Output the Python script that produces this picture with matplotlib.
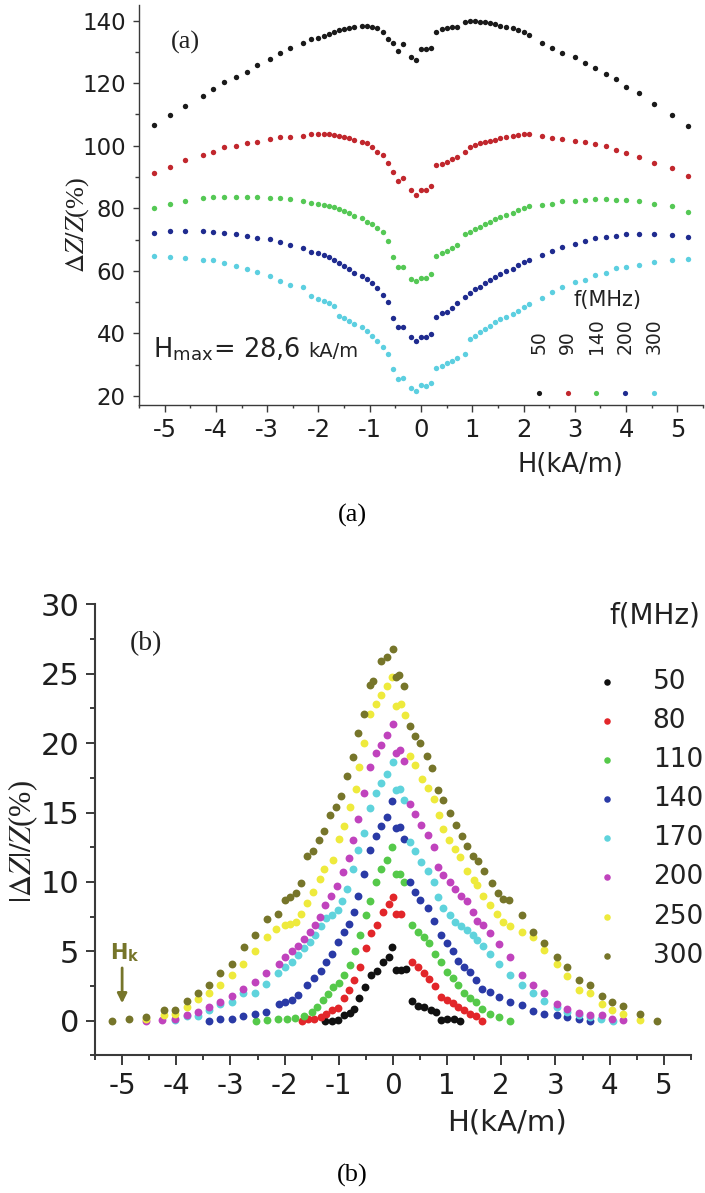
import matplotlib.pyplot as plt
from matplotlib.ticker import MultipleLocator

plt.rcParams['font.family'] = ['DejaVu Sans']
plt.rcParams['mathtext.fontset'] = 'stix'
plt.rcParams['axes.unicode_minus'] = False

# ---------------- panel (a): GMI ratio, Hmax = 28,6 kA/m ----------------
H_a = [-5.2, -4.9, -4.6, -4.25, -4.05, -3.85, -3.6, -3.4, -3.2, -2.95,
       -2.75, -2.55, -2.3, -2.15, -2.0, -1.9, -1.8, -1.7, -1.6, -1.5,
       -1.4, -1.3, -1.15, -1.05, -0.95, -0.85,
       -0.75, -0.65, -0.55, -0.45, -0.35, -0.2, -0.1,
       0.0, 0.1, 0.2,
       0.3, 0.4, 0.5, 0.6, 0.7, 0.85, 0.95, 1.05, 1.15, 1.25,
       1.35, 1.45, 1.55, 1.65, 1.8, 1.9, 2.0, 2.1,
       2.35, 2.55, 2.75, 3.0, 3.2, 3.4, 3.6, 3.8, 4.0, 4.25, 4.55, 4.9, 5.2]

a_50 = [106.7, 109.8, 112.8, 116.0, 118.1, 120.4, 122.1, 123.7, 125.7, 127.7,
        129.6, 131.2, 132.8, 134.1, 134.6, 135.1, 135.6, 136.3, 137.0, 137.3,
        137.8, 138.1, 138.4, 138.4, 138.1, 137.6,
        136.3, 134.0, 132.8, 130.3, 132.6, 128.5, 127.4,
        131.0, 131.0, 131.2,
        136.5, 137.2, 137.6, 137.9, 138.1, 139.7, 139.9, 139.9, 139.7, 139.5,
        139.2, 138.8, 138.4, 138.1, 137.6, 137.0, 136.3, 135.4,
        133.0, 131.4, 129.8, 128.3, 126.6, 124.8, 123.0, 121.3, 118.9, 116.8, 113.3, 109.8, 106.3]
a_90 = [91.2, 93.3, 95.5, 97.1, 98.1, 99.5, 100.0, 101.0, 101.3, 102.1,
        102.7, 102.9, 103.1, 103.7, 103.7, 103.8, 103.7, 103.5, 103.1, 102.9,
        102.4, 101.9, 101.3, 101.0, 99.7, 98.1,
        97.0, 94.6, 91.7, 88.6, 89.6, 85.9, 84.3,
        85.7, 85.7, 87.1,
        93.7, 94.2, 94.9, 95.7, 96.5, 98.1, 99.7, 100.3, 100.8, 101.3,
        101.6, 101.9, 102.4, 102.9, 103.1, 103.5, 103.7, 103.7,
        103.2, 102.6, 102.1, 101.6, 101.3, 100.6, 99.9, 98.6, 97.6, 96.5, 94.6, 92.8, 90.4]
a_140 = [80.0, 81.4, 82.4, 83.2, 83.5, 83.7, 83.7, 83.7, 83.5, 83.4,
         83.2, 82.9, 82.4, 81.8, 81.4, 81.1, 80.7, 80.3, 79.7, 79.2,
         78.4, 77.6, 76.8, 75.7, 75.0, 73.8,
         72.5, 69.4, 64.3, 61.1, 61.1, 57.4, 56.9,
         57.6, 57.6, 59.0,
         64.9, 65.8, 66.5, 67.2, 68.3, 71.8, 72.3, 73.3, 74.1, 75.0,
         75.7, 76.6, 77.3, 77.9, 78.6, 79.3, 80.0, 80.7,
         81.1, 81.4, 82.2, 82.2, 82.8, 83.0, 83.0, 82.8, 82.6, 82.2, 81.4, 80.6, 78.7]
a_200 = [72.2, 72.8, 72.9, 72.9, 72.5, 72.2, 71.8, 71.2, 70.6, 70.1,
         69.1, 68.3, 67.2, 66.1, 65.6, 65.1, 64.3, 63.5, 62.6, 61.6,
         60.5, 59.4, 58.4, 57.3, 56.0, 54.4,
         52.3, 50.2, 44.8, 42.0, 42.0, 38.8, 37.7,
         38.9, 38.9, 39.8,
         45.4, 46.4, 47.0, 48.0, 49.6, 51.7, 53.0, 54.1, 54.9, 56.0,
         57.0, 57.9, 58.9, 59.9, 60.7, 61.8, 62.8, 63.6,
         65.1, 66.3, 67.6, 68.7, 69.7, 70.4, 70.9, 71.3, 71.7, 71.8, 71.8, 71.5, 70.7]
a_300 = [64.7, 64.5, 64.2, 63.6, 63.4, 62.6, 61.7, 60.6, 59.5, 58.3,
         56.9, 55.6, 54.9, 51.9, 51.1, 50.3, 49.6, 48.7, 45.6, 44.9,
         44.0, 43.0, 41.9, 40.8, 39.2, 37.6,
         35.5, 33.4, 28.6, 25.4, 25.6, 22.7, 21.6,
         23.4, 23.2, 24.3,
         28.9, 29.7, 30.5, 31.3, 32.0, 33.4, 38.2, 39.2, 40.5, 41.4,
         42.4, 43.5, 44.6, 45.4, 46.2, 47.2, 48.3, 49.4,
         51.4, 53.2, 54.8, 56.3, 57.1, 58.7, 59.4, 60.8, 61.3, 61.8, 62.7, 63.5, 63.7]

series_a = [a_50, a_90, a_140, a_200, a_300]
freqs_a = ['50', '90', '140', '200', '300']
colors_a = ['#1a1a1a', '#c1272d', '#55c855', '#1f2b8f', '#5ccfe0']

# ---------------- panel (b): |dZ|/Z vs H for several frequencies ----------------
H_50 = [-1.25, -1.13, -1.02, -0.9, -0.79, -0.71, -0.63, -0.52, -0.4, -0.29, -0.18, -0.08, -0.01,
        0.05, 0.15, 0.25, 0.35, 0.46, 0.58, 0.71, 0.79, 0.88, 1.0, 1.13, 1.23]
b_50 = [0.0, 0.0, 0.05, 0.4, 0.56, 0.86, 1.66, 2.4, 3.3, 3.6, 4.2, 4.6, 5.3,
        3.65, 3.65, 3.7, 1.45, 1.05, 0.95, 0.8, 0.65, 0.05, 0.15, 0.15, 0.0]

H_80 = [-1.68, -1.57, -1.46, -1.33, -1.23, -1.13, -1.02, -0.9, -0.82, -0.71, -0.61, -0.5, -0.4,
        -0.29, -0.18, -0.08, 0.0, 0.05, 0.15, 0.35, 0.46, 0.57, 0.67, 0.77, 0.88, 1.0, 1.11,
        1.21, 1.32, 1.42, 1.53, 1.65]
b_80 = [0.0, 0.1, 0.15, 0.27, 0.5, 0.75, 0.94, 1.6, 2.2, 2.9, 3.9, 5.2, 6.3,
        6.9, 7.8, 8.4, 8.9, 7.7, 7.7, 4.2, 3.9, 3.4, 3.0, 2.5, 1.7, 1.5, 1.25,
        1.0, 0.8, 0.5, 0.3, 0.0]

H_110 = [-2.52, -2.33, -2.13, -1.95, -1.8, -1.65, -1.5, -1.4, -1.3, -1.2, -1.1, -1.0, -0.9,
         -0.8, -0.7, -0.6, -0.5, -0.42, -0.32, -0.22, -0.11, -0.02, 0.05, 0.13, 0.2, 0.35,
         0.46, 0.58, 0.67, 0.77, 0.88, 1.0, 1.11, 1.21, 1.32, 1.42, 1.53, 1.65, 1.79, 1.96, 2.17]
b_110 = [0.0, 0.03, 0.1, 0.12, 0.22, 0.32, 0.63, 1.0, 1.46, 1.95, 2.4, 2.7, 3.3,
         4.0, 5.0, 6.2, 7.6, 8.6, 10.0, 10.9, 11.6, 12.5, 10.6, 10.6, 10.0, 6.9,
         6.4, 6.0, 5.6, 4.8, 4.2, 3.5, 3.1, 2.55, 2.0, 1.66, 1.35, 0.86, 0.5, 0.27, 0.0]

H_140 = [-3.4, -3.19, -2.97, -2.77, -2.55, -2.34, -2.11, -2.0, -1.87, -1.75, -1.58, -1.46, -1.32,
         -1.23, -1.13, -1.02, -0.9, -0.82, -0.71, -0.64, -0.54, -0.42, -0.32, -0.22, -0.11, -0.02,
         0.05, 0.13, 0.2, 0.32, 0.41, 0.5, 0.64, 0.75, 0.88, 1.0, 1.11, 1.21, 1.32, 1.42, 1.53,
         1.65, 1.79, 1.96, 2.17, 2.38, 2.58, 2.79, 3.02, 3.22, 3.43, 3.64]
b_140 = [0.0, 0.1, 0.1, 0.32, 0.46, 0.63, 1.2, 1.35, 1.5, 1.83, 2.55, 3.1, 3.6,
         4.2, 4.8, 5.7, 6.4, 7.0, 7.8, 9.0, 10.6, 12.3, 13.3, 14.0, 14.7, 15.8,
         13.85, 13.95, 13.1, 10.0, 9.3, 8.7, 8.1, 7.2, 6.2, 5.6, 5.0, 4.3, 3.9, 3.5, 2.9,
         2.25, 2.1, 1.7, 1.35, 1.1, 0.7, 0.5, 0.4, 0.27, 0.15, 0.0]

H_170 = [-4.02, -3.81, -3.6, -3.4, -3.19, -2.97, -2.77, -2.55, -2.34, -2.13, -2.0, -1.87, -1.75,
         -1.65, -1.54, -1.44, -1.33, -1.23, -1.13, -1.02, -0.94, -0.85, -0.74, -0.64, -0.54,
         -0.43, -0.32, -0.22, -0.11, 0.0, 0.05, 0.13, 0.2, 0.32, 0.41, 0.52, 0.64, 0.75, 0.84,
         0.93, 1.06, 1.15, 1.25, 1.36, 1.47, 1.56, 1.67, 1.79, 1.96, 2.17, 2.38, 2.58, 2.79,
         3.02, 3.22, 3.43, 3.64, 3.85, 4.06]
b_170 = [0.03, 0.32, 0.32, 0.75, 1.2, 1.35, 2.0, 2.0, 2.67, 3.44, 3.9, 4.2, 4.7,
         5.2, 5.7, 6.2, 6.8, 7.4, 7.6, 8.0, 8.6, 9.5, 10.9, 12.3, 13.5,
         15.3, 16.4, 17.1, 17.8, 18.65, 16.6, 16.7, 15.9, 12.9, 12.2, 11.4, 10.8, 10.0, 8.9,
         8.1, 7.6, 7.1, 6.8, 6.5, 6.2, 5.8, 5.4, 4.8, 4.1, 3.3, 2.55, 2.0, 1.42,
         1.0, 0.63, 0.4, 0.27, 0.15, 0.0]

H_200 = [-4.55, -4.26, -4.03, -3.81, -3.6, -3.4, -3.19, -2.97, -2.77, -2.55, -2.34, -2.11, -2.0,
         -1.87, -1.75, -1.65, -1.54, -1.44, -1.35, -1.25, -1.14, -1.03, -0.93, -0.82, -0.73,
         -0.64, -0.53, -0.42, -0.32, -0.22, -0.11, 0.0, 0.05, 0.13, 0.2, 0.32, 0.41, 0.52, 0.64,
         0.75, 0.84, 0.93, 1.06, 1.15, 1.25, 1.36, 1.47, 1.56, 1.67, 1.8, 1.96, 2.17, 2.38,
         2.58, 2.79, 3.02, 3.22, 3.43, 3.64, 3.86, 4.04, 4.24]
b_200 = [0.0, 0.03, 0.1, 0.39, 0.63, 0.99, 1.35, 1.76, 2.3, 2.8, 3.45, 4.1, 4.6,
         5.0, 5.4, 5.9, 6.4, 6.9, 7.5, 8.3, 9.0, 9.7, 10.7, 11.7, 13.0,
         14.5, 16.4, 18.3, 19.3, 19.9, 20.6, 21.4, 19.3, 19.5, 18.7, 15.6, 14.9, 14.1, 13.4,
         12.5, 11.1, 10.5, 10.0, 9.5, 9.0, 8.6, 7.8, 7.2, 6.9, 6.3, 5.5, 4.6, 3.3,
         2.55, 2.0, 1.23, 0.86, 0.55, 0.4, 0.39, 0.15, 0.07]

H_250 = [-4.55, -4.23, -4.02, -3.81, -3.6, -3.4, -3.19, -2.97, -2.77, -2.54, -2.33, -2.15, -2.0,
         -1.9, -1.79, -1.7, -1.59, -1.47, -1.35, -1.27, -1.1, -1.0, -0.9, -0.79, -0.69, -0.63,
         -0.54, -0.42, -0.32, -0.22, -0.11, -0.02, 0.05, 0.14, 0.22, 0.32, 0.41, 0.53, 0.64,
         0.75, 0.85, 0.93, 1.04, 1.14, 1.24, 1.36, 1.49, 1.56, 1.67, 1.8, 1.92, 2.04, 2.17,
         2.38, 2.58, 2.79, 3.02, 3.22, 3.43, 3.64, 3.86, 4.04, 4.24, 4.56]
b_250 = [0.1, 0.39, 0.5, 0.99, 1.59, 2.0, 2.6, 3.27, 4.07, 5.0, 6.0, 6.6, 6.9,
         7.0, 7.1, 7.7, 8.5, 9.3, 10.2, 10.9, 11.6, 13.1, 14.0, 15.4, 16.7, 18.3,
         20.0, 22.1, 22.8, 23.5, 24.1, 24.8, 22.7, 22.8, 22.0, 19.1, 18.4, 17.4, 16.8,
         16.0, 14.8, 13.8, 13.0, 12.4, 11.8, 10.8, 10.1, 9.8, 9.0, 8.3, 7.7, 7.1, 6.8,
         6.4, 6.0, 5.1, 4.1, 3.2, 2.2, 2.0, 1.23, 0.8, 0.46, 0.05]

H_300 = [-5.18, -4.88, -4.55, -4.23, -4.02, -3.81, -3.6, -3.4, -3.19, -2.97, -2.75, -2.54, -2.33,
         -2.12, -2.0, -1.9, -1.79, -1.7, -1.58, -1.47, -1.36, -1.27, -1.16, -1.06, -0.96, -0.85,
         -0.74, -0.65, -0.53, -0.43, -0.36, -0.22, -0.11, 0.0, 0.06, 0.12, 0.2, 0.32, 0.41, 0.5,
         0.62, 0.73, 0.83, 0.93, 1.05, 1.16, 1.27, 1.37, 1.47, 1.57, 1.69, 1.82, 1.94, 2.04,
         2.15, 2.38, 2.58, 2.79, 3.02, 3.22, 3.43, 3.64, 3.86, 4.04, 4.24, 4.56, 4.88]
b_300 = [0.0, 0.1, 0.27, 0.75, 0.75, 1.4, 2.02, 2.6, 3.4, 4.07, 5.3, 6.2, 7.3,
         7.7, 8.7, 8.9, 9.2, 9.9, 11.9, 12.2, 13.0, 13.7, 14.8, 15.4, 16.2, 17.6,
         19.0, 20.7, 22.1, 24.2, 24.5, 25.9, 26.2, 26.8, 24.8, 24.9, 24.1, 21.2, 20.5, 20.0,
         19.1, 18.2, 16.6, 15.9, 15.0, 14.1, 13.3, 12.6, 11.9, 11.5, 10.8, 9.9, 9.2, 8.8,
         8.7, 7.6, 6.4, 5.6, 4.6, 3.9, 2.9, 2.6, 1.76, 1.35, 1.06, 0.46, 0.0]

series_b = [(H_50, b_50), (H_80, b_80), (H_110, b_110), (H_140, b_140),
            (H_170, b_170), (H_200, b_200), (H_250, b_250), (H_300, b_300)]
freqs_b = ['50', '80', '110', '140', '170', '200', '250', '300']
colors_b = ['#111111', '#e2262a', '#55c94a', '#2a3aa6', '#5fd3dc',
            '#c043bd', '#eeea3c', '#76752a']
Hk = -5.0

axis_col = '#3a3a3a'
serif = ['Liberation Serif', 'DejaVu Serif']

fig = plt.figure(figsize=(7.05, 11.93), dpi=100)

# panel (a)
ax = fig.add_axes([0.1972, 0.6605, 0.8, 0.3353])
for vals, c in zip(series_a, colors_a):
    ax.scatter(H_a, vals, s=15, color=c, linewidths=0, zorder=3)
ax.set_xlim(-5.5, 5.5)
ax.set_ylim(17.1, 145)
ax.xaxis.set_major_locator(MultipleLocator(1))
ax.xaxis.set_minor_locator(MultipleLocator(0.5))
ax.yaxis.set_major_locator(MultipleLocator(20))
ax.yaxis.set_minor_locator(MultipleLocator(10))
for s in ['top', 'right']:
    ax.spines[s].set_visible(False)
for s in ['left', 'bottom']:
    ax.spines[s].set_color(axis_col)
    ax.spines[s].set_linewidth(1.0)
ax.tick_params(which='both', direction='out', color=axis_col, width=1.0, labelcolor='#1e1e1e')
ax.tick_params(axis='x', which='major', length=5, labelsize=17.5, pad=4)
ax.tick_params(axis='x', which='minor', length=2.5)
ax.tick_params(axis='y', which='major', length=4.5, labelsize=16.5, pad=5)
ax.tick_params(axis='y', which='minor', length=3)

ax.text(0.056, 0.906, '(a)', transform=ax.transAxes, fontsize=19, family=serif,
        ha='left', va='center', color='#222222')
ax.text(0.024, 0.12, r'H$_{\mathregular{max}}$= 28,6', transform=ax.transAxes,
        fontsize=18.5, ha='left', va='baseline', color='#222222')
ax.text(0.300, 0.12, 'kA/m', transform=ax.transAxes, fontsize=14,
        ha='left', va='baseline', color='#222222')

# frequency key, labels standing upright over small dots
ax.text(0.831, 0.2625, 'f(MHz)', transform=ax.transAxes, fontsize=15,
        ha='center', va='center', color='#222222')
for i, (f, c) in enumerate(zip(freqs_a, colors_a)):
    x = 0.709 + i * 0.051
    ax.scatter([x], [0.03], s=14, color=c, linewidths=0, transform=ax.transAxes, clip_on=False)
    ax.text(x, 0.1275, f, rotation=90, transform=ax.transAxes, fontsize=13.5,
            ha='center', va='bottom', color='#222222')

fig.text(78 / 705, 1 - 225 / 1193, r'$\Delta Z/Z$(%)', rotation=90, family=serif,
         fontsize=19, ha='center', va='center', color='#222222')
fig.text(570 / 705, 1 - 465 / 1193, 'H(kA/m)', fontsize=18.5, ha='center', va='center',
         color='#222222')
fig.text(352 / 705, 1 - 515 / 1193, '(a)', family=serif, fontsize=19, ha='center', va='center')

# panel (b)
bx = fig.add_axes([0.1348, 0.1154, 0.8451, 0.378])
for (hh, vals), c in zip(series_b, colors_b):
    bx.scatter(hh, vals, s=32, color=c, linewidths=0, zorder=3)
bx.set_xlim(-5.5, 5.5)
bx.set_ylim(-2.5, 30)
bx.xaxis.set_major_locator(MultipleLocator(1))
bx.xaxis.set_minor_locator(MultipleLocator(0.5))
bx.yaxis.set_major_locator(MultipleLocator(5))
bx.yaxis.set_minor_locator(MultipleLocator(2.5))
for s in ['top', 'right']:
    bx.spines[s].set_visible(False)
for s in ['left', 'bottom']:
    bx.spines[s].set_color(axis_col)
    bx.spines[s].set_linewidth(1.5)
bx.tick_params(which='both', direction='out', color=axis_col, width=1.4, labelcolor='#1e1e1e')
bx.tick_params(axis='x', which='major', length=7, labelsize=20, pad=5)
bx.tick_params(axis='x', which='minor', length=3.5)
bx.tick_params(axis='y', which='major', length=6.5, labelsize=22, pad=5)
bx.tick_params(axis='y', which='minor', length=3.5)

bx.text(0.059, 0.914, '(b)', transform=bx.transAxes, fontsize=20, family=serif,
        ha='left', va='center', color='#222222')

bx.text(0.864, 0.976, 'f(MHz)', transform=bx.transAxes, fontsize=20,
        ha='left', va='center', color='#222222', clip_on=False)
for i, (f, c) in enumerate(zip(freqs_b, colors_b)):
    y = 0.828 - i * 0.0867
    bx.scatter([0.860], [y], s=22, color=c, linewidths=0, transform=bx.transAxes, clip_on=False)
    bx.text(0.936, y, f, transform=bx.transAxes, fontsize=19, ha='left', va='center',
            color='#222222', clip_on=False)

# anisotropy field marker
olive = colors_b[-1]
bx.annotate('', xy=(Hk, 1.25), xytext=(Hk, 3.8),
            arrowprops=dict(arrowstyle='-|>', color=olive, lw=2, mutation_scale=14,
                            shrinkA=0, shrinkB=0))
bx.text(Hk + 0.05, 4.1, r'H$_{\mathregular{k}}$', fontsize=15, fontweight='bold',
        color=olive, ha='center', va='bottom')

fig.text(23 / 705, 1 - 842 / 1193, r'$|\Delta Z|/Z$(%)', rotation=90, family=serif,
         fontsize=22, ha='center', va='center', color='#222222')
fig.text(507 / 705, 1 - 1122 / 1193, 'H(kA/m)', fontsize=21, ha='center', va='center',
         color='#222222')
fig.text(352 / 705, 1 - 1175 / 1193, '(b)', family=serif, fontsize=19, ha='center', va='center')

fig.savefig('out.png', dpi=100)
